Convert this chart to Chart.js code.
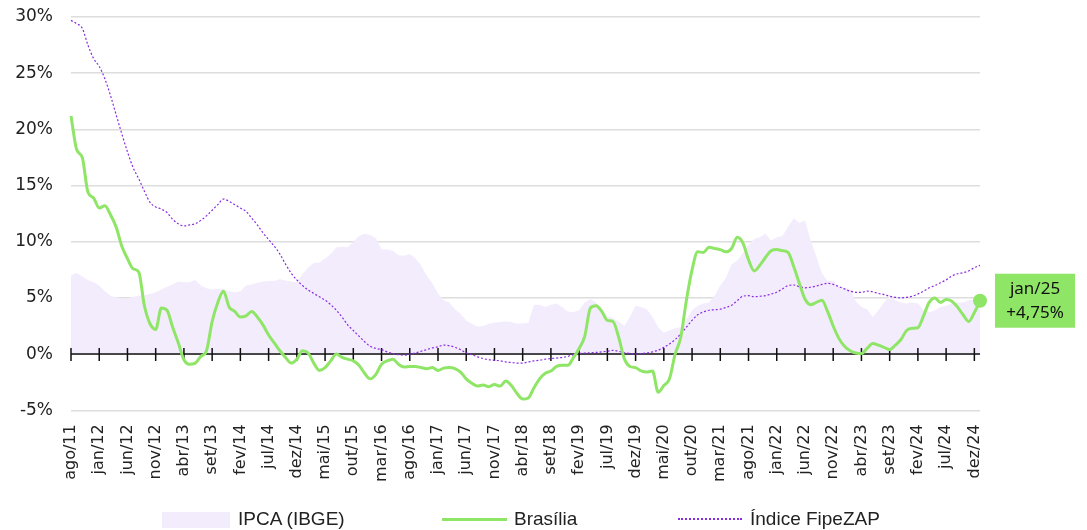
<!DOCTYPE html>
<html>
<head>
<meta charset="utf-8">
<script src="https://cdn.jsdelivr.net/npm/chart.js@4.4.1/dist/chart.umd.min.js"></script>
<style>
  html, body { margin: 0; padding: 0; background: #fff; }
  #wrap { width: 1087px; height: 530px; position: relative; }
  #legenda { position: absolute; left: 0; top: 505px; width: 1087px; height: 28px;
             font-family: 'Liberation Sans', Arial, sans-serif; font-size: 19px; color: #222; }
  #legenda div { position: absolute; }
  #legenda .txt { top: 2px; line-height: 24px; }
</style>
</head>
<body>
<div id="wrap">
  <canvas id="grafico"></canvas>
  <div id="legenda">
    <div id="simIpca" style="left:162px; top:7px; width:68px; height:16px;"></div>
    <div class="txt" style="left:238px;">IPCA (IBGE)</div>
    <div id="simBsb" style="left:442px; top:13px; width:65px; height:0;"></div>
    <div class="txt" style="left:514px;">Brasília</div>
    <div id="simFipe" style="left:678px; top:13px; width:64px; height:0;"></div>
    <div class="txt" style="left:750px;">Índice FipeZAP</div>
  </div>
</div>
<script>
// meses de ago/11 a jan/25
var meses = ['jan','fev','mar','abr','mai','jun','jul','ago','set','out','nov','dez'];
var labels = [];
for (var a = 2011; a <= 2025; a++) {
    for (var m = 0; m < 12; m++) {
        if (a === 2011 && m < 7) continue;
        if (a === 2025 && m > 0) continue;
        labels.push(meses[m] + '/' + String(a).slice(2));
    }
}

var yTicks = [-5, 0, 5, 10, 15, 20, 25, 30];

var ipca = [
    7.0, 7.25, 6.9, 6.6, 6.4, 6.1, 5.6, 5.2, 5.05, 4.97,
    4.97, 5.1, 5.2, 5.25, 5.35, 5.5, 5.75, 6.0, 6.2, 6.45,
    6.4, 6.4, 6.6, 6.1, 5.85, 5.75, 5.8, 5.8, 5.6, 5.5,
    5.6, 6.1, 6.2, 6.35, 6.45, 6.5, 6.5, 6.65, 6.55, 6.45,
    6.4, 7.1, 7.7, 8.1, 8.15, 8.5, 8.9, 9.5, 9.55, 9.5,
    10.0, 10.5, 10.7, 10.6, 10.3, 9.3, 9.3, 9.2, 8.8, 8.75,
    8.9, 8.5, 7.9, 7.0, 6.3, 5.4, 4.8, 4.6, 4.0, 3.6,
    3.0, 2.7, 2.45, 2.5, 2.7, 2.8, 2.85, 2.9, 2.85, 2.7,
    2.75, 2.8, 4.4, 4.4, 4.2, 4.4, 4.5, 4.2, 3.8, 3.75,
    3.9, 4.6, 4.9, 4.6, 4.0, 3.4, 3.2, 2.9, 2.5, 3.3,
    4.3, 4.2, 4.0, 3.3, 2.4, 1.9, 2.1, 2.3, 2.4, 3.1,
    3.9, 4.3, 4.5, 4.6, 5.2, 6.1, 6.8, 8.0, 8.3, 9.0,
    9.7, 10.25, 10.4, 10.7, 10.1, 10.4, 10.5, 11.3, 12.1, 11.7,
    11.9, 10.1, 8.7, 7.2, 6.5, 6.5, 6.0, 5.9, 5.8, 4.7,
    4.2, 4.0, 3.3, 3.9, 4.6, 5.2, 4.8, 4.6, 4.5, 4.6,
    4.5, 3.9, 3.7, 3.9, 4.2, 4.3, 4.5, 4.6, 4.6, 4.8,
    4.85, 4.9
];

var brasilia = [
    21.2, 18.2, 17.5, 14.4, 13.9, 13.0, 13.2, 12.4, 11.3, 9.6,
    8.5, 7.6, 7.3, 4.3, 2.7, 2.2, 4.1, 3.9, 2.4, 1.0,
    -0.5, -0.9, -0.8, -0.2, 0.3, 2.9, 4.6, 5.6, 4.2, 3.8,
    3.3, 3.4, 3.8, 3.3, 2.6, 1.7, 1.0, 0.3, -0.3, -0.8,
    -0.45, 0.3, 0.1, -0.8, -1.45, -1.2, -0.6, 0.0, -0.3, -0.45,
    -0.6, -1.0, -1.7, -2.2, -1.8, -0.9, -0.6, -0.45, -0.9, -1.15,
    -1.1, -1.1, -1.2, -1.3, -1.2, -1.45, -1.25, -1.2, -1.3, -1.6,
    -2.2, -2.6, -2.85, -2.75, -2.9, -2.7, -2.85, -2.4, -2.8, -3.5,
    -4.0, -3.9, -3.0, -2.2, -1.7, -1.5, -1.1, -1.0, -1.0, -0.3,
    0.5, 1.6, 4.1, 4.3, 3.8, 3.0, 2.9, 1.5, -0.4, -1.1,
    -1.2, -1.5, -1.6, -1.5, -3.4, -2.8, -2.2, 0.0, 1.5, 4.8,
    7.5, 9.1, 9.05, 9.5, 9.4, 9.3, 9.1, 9.4, 10.4, 9.9,
    8.4, 7.4, 7.9, 8.6, 9.2, 9.3, 9.2, 9.05, 7.8, 6.3,
    4.9, 4.4, 4.6, 4.8, 3.8, 2.5, 1.4, 0.7, 0.3, 0.1,
    0.05, 0.5, 0.95, 0.8, 0.6, 0.4, 0.8, 1.3, 2.1, 2.3,
    2.35, 3.4, 4.6, 5.0, 4.6, 4.85, 4.7, 4.2, 3.5, 2.9,
    3.7, 4.75
];

var fipezap = [
    29.7, 29.4, 29.0, 27.5, 26.3, 25.6, 24.5, 23.0, 21.3, 19.6,
    18.0, 16.6, 15.6, 14.5, 13.5, 13.1, 12.9, 12.6, 12.0, 11.6,
    11.4, 11.5, 11.6, 11.9, 12.3, 12.8, 13.3, 13.8, 13.6, 13.3,
    13.0, 12.7, 12.1, 11.5, 10.8, 10.2, 9.6, 8.9, 8.0, 7.2,
    6.6, 6.1, 5.7, 5.4, 5.1, 4.8, 4.4, 3.9, 3.3, 2.6,
    2.1, 1.6, 1.1, 0.7, 0.5, 0.4, 0.2, 0.05, -0.05, -0.1,
    0.0, 0.1, 0.25, 0.4, 0.55, 0.65, 0.8, 0.75, 0.6, 0.4,
    0.1, -0.05, -0.25, -0.4, -0.5, -0.55, -0.6, -0.7, -0.75, -0.8,
    -0.8, -0.7, -0.6, -0.55, -0.45, -0.4, -0.35, -0.3, -0.2, -0.05,
    0.05, 0.1, 0.12, 0.15, 0.2, 0.25, 0.33, 0.25, 0.12, 0.05,
    0.0, 0.05, 0.1, 0.2, 0.35, 0.6, 0.9, 1.3, 1.8, 2.4,
    3.0, 3.5, 3.75, 3.9, 3.95, 4.0, 4.15, 4.35, 4.75, 5.15,
    5.2, 5.1, 5.15, 5.2, 5.35, 5.5, 5.8, 6.1, 6.15, 6.0,
    5.9, 5.95, 6.05, 6.2, 6.3, 6.2, 6.0, 5.8, 5.6, 5.5,
    5.5, 5.6, 5.55, 5.4, 5.3, 5.15, 5.05, 5.0, 5.05, 5.15,
    5.35, 5.6, 5.9, 6.1, 6.35, 6.6, 6.95, 7.15, 7.25, 7.4,
    7.7, 7.9
];

var verde = '#8ee566';
var lilas = '#f3ecfd';
var roxo = '#8a2be2';
var ultimo = labels.length - 1;
var fonte = "'DejaVu Sans', sans-serif";

// simbolos da legenda (html)
document.getElementById('simIpca').style.background = lilas;
document.getElementById('simBsb').style.borderTop = '3px solid ' + verde;
document.getElementById('simFipe').style.borderTop = '2px dotted ' + roxo;

// linha do zero com marcas, desenhada logo depois da area do IPCA
var linhaZero = {
    id: 'linhaZero',
    afterDatasetDraw: function (chart, args) {
        if (args.index !== 0) return;
        var ctx = chart.ctx;
        var x = chart.scales.x, y = chart.scales.y;
        var y0 = y.getPixelForValue(0);
        ctx.save();
        ctx.strokeStyle = '#111';
        ctx.lineWidth = 1.5;
        ctx.beginPath();
        ctx.moveTo(chart.chartArea.left, y0);
        ctx.lineTo(chart.chartArea.right, y0);
        for (var i = 0; i < labels.length; i += 5) {
            var px = x.getPixelForValue(i);
            ctx.moveTo(px, y0 - 6);
            ctx.lineTo(px, y0 + 7);
        }
        ctx.stroke();
        ctx.restore();
    }
};

// caixa com o ultimo valor
var rotuloFinal = {
    id: 'rotuloFinal',
    afterDraw: function (chart) {
        var ctx = chart.ctx;
        var y = chart.scales.y;
        var py = y.getPixelForValue(brasilia[ultimo]);
        var left = chart.chartArea.right + 15;
        ctx.save();
        ctx.fillStyle = verde;
        ctx.fillRect(left, py - 27, 80, 54);
        ctx.fillStyle = '#111';
        ctx.font = "17px 'Noto Sans', sans-serif";
        ctx.textAlign = 'center';
        ctx.textBaseline = 'middle';
        ctx.fillText(labels[ultimo], left + 40, py - 12);
        ctx.fillText('+' + brasilia[ultimo].toFixed(2).replace('.', ',') + '%', left + 40, py + 12);
        ctx.restore();
    }
};

new Chart(document.getElementById('grafico'), {
    type: 'line',
    data: {
        labels: labels,
        datasets: [{
            label: 'IPCA (IBGE)',
            data: ipca,
            fill: 'origin',
            backgroundColor: lilas,
            borderColor: lilas,
            borderWidth: 0,
            pointRadius: 0,
            tension: 0,
            order: 3
        }, {
            label: 'Brasília',
            data: brasilia,
            borderColor: verde,
            backgroundColor: verde,
            borderWidth: 3,
            cubicInterpolationMode: 'monotone',
            pointRadius: function (c) { return c.dataIndex === ultimo ? 7 : 0; },
            pointBackgroundColor: verde,
            pointBorderWidth: 0,
            order: 1
        }, {
            label: 'Índice FipeZAP',
            data: fipezap,
            borderColor: roxo,
            backgroundColor: roxo,
            borderWidth: 1.2,
            borderDash: [2, 2],
            cubicInterpolationMode: 'monotone',
            pointRadius: 0,
            order: 2
        }]
    },
    options: {
        responsive: true,
        maintainAspectRatio: false,
        animation: false,
        layout: { padding: { left: 0, right: 107, top: 17, bottom: 42 } },
        plugins: {
            tooltip: { enabled: false },
            legend: { display: false }
        },
        scales: {
            x: {
                grid: { display: false },
                border: { display: false },
                ticks: {
                    autoSkip: false,
                    minRotation: 90,
                    maxRotation: 90,
                    padding: 6,
                    color: '#222',
                    font: { family: fonte, size: 16 },
                    callback: function (v, i) { return (i % 5 === 0 && i < ultimo) ? labels[i] : ''; }
                }
            },
            y: {
                min: yTicks[0],
                max: yTicks[yTicks.length - 1],
                afterBuildTicks: function (s) { s.ticks = yTicks.map(function (v) { return { value: v }; }); },
                afterFit: function (s) { s.width = 71; },
                grid: { color: '#dddddd', lineWidth: 1.5, drawTicks: true, tickLength: 18, tickColor: 'rgba(0,0,0,0)' },
                border: { display: false },
                ticks: {
                    padding: 0,
                    color: '#222',
                    font: { family: fonte, size: 17 },
                    callback: function (v) { return v + '%'; }
                }
            }
        }
    },
    plugins: [linhaZero, rotuloFinal]
});
</script>
</body>
</html>
